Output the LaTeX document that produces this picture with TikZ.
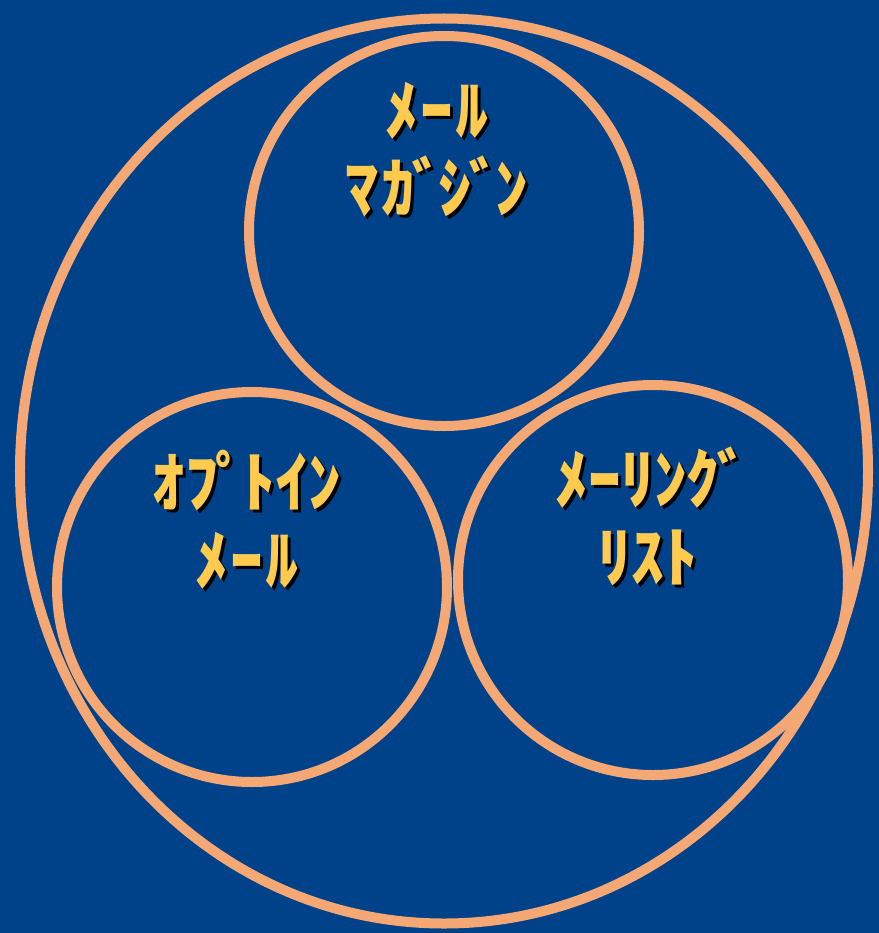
\documentclass[tikz,border=0pt]{standalone}
\usepackage{fontspec}
\newfontfamily\cjk{Noto Sans CJK JP}
\usetikzlibrary{shapes.geometric}
\definecolor{bg}{HTML}{00428A}
\definecolor{ring}{HTML}{F5A874}
\definecolor{txt}{HTML}{FFCB4E}
\newcommand\dkt{\kern-3bp ﾞ\kern-9bp}
\newcommand\hdkt{\kern-3bp ﾟ\kern-9bp}
\begin{document}
\begin{tikzpicture}[x=1bp,y=-1bp,
  ringc/.style={circle,draw=ring,line width=10bp,minimum size=390bp,inner sep=0pt},
  lbl/.style={text=txt,font=\cjk\bfseries\fontsize{66}{78}\selectfont,align=center,inner sep=0pt},
  shd/.style={lbl,text=black}]
\fill[bg] (0,0) rectangle (879,933);
\useasboundingbox (0,0) rectangle (879,933);
\node[ellipse,draw=ring,line width=10bp,minimum width=848bp,minimum height=905bp,inner sep=0pt] (outer) at (444,471) {};
\node[ringc] (top) at (444,231) {};
\node[ringc] (left) at (252,587) {};
\node[ringc] (right) at (653,580) {};
\node[shd] (t1s) at (440,153) {ﾒ\kern2bp ｰ\kern2bp ﾙ\\ﾏ\kern3bp ｶ\dkt\kern3bp ｼ\dkt\kern3bp ﾝ};
\node[lbl] (t1) at (437,150) {ﾒ\kern2bp ｰ\kern2bp ﾙ\\ﾏ\kern3bp ｶ\dkt\kern3bp ｼ\dkt\kern3bp ﾝ};
\node[shd] (t2s) at (250,523) {ｵﾌ\hdkt\kern3bp ﾄｲﾝ\\ﾒ\kern2bp ｰ\kern2bp ﾙ};
\node[lbl] (t2) at (247,520) {ｵﾌ\hdkt\kern3bp ﾄｲﾝ\\ﾒ\kern2bp ｰ\kern2bp ﾙ};
\node[shd] (t3s) at (651,519) {ﾒｰﾘﾝｸ\dkt\\ﾘｽﾄ};
\node[lbl] (t3) at (648,516) {ﾒｰﾘﾝｸ\dkt\\ﾘｽﾄ};
\end{tikzpicture}
\end{document}
